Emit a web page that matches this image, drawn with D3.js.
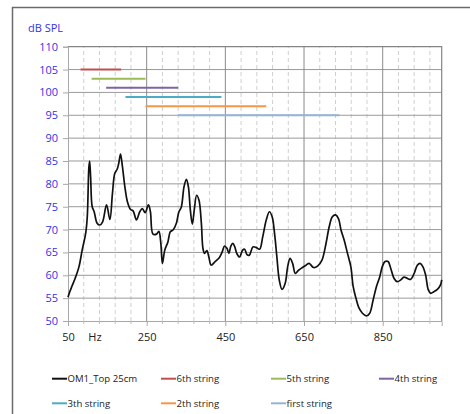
<!DOCTYPE html>
<html><head><meta charset="utf-8">
<script src="https://cdn.jsdelivr.net/npm/d3@7"></script>
<style>body{margin:0;background:#fff} text{font-family:"Open Sans",sans-serif}</style>
</head><body><svg id="c" width="470" height="414"></svg>
<script>
const seriesName = "OM1_Top 25cm";
const freq = [50,55,60,68,78,86,95,99,103,105,107.5,111.5,116.5,124,131,138,148,156.5,163,169,175,179,183.5,188.5,194.5,201,209,215.5,224,232.5,239,246,254.5,259.5,266,275,281,286,290,296,304,310,317,325.5,332,338,345,351,356,361,366,371,377,383,389,393,397,403,408,414,424,435,442,448,454,459,464,469,474,479,486,494,499,505,511,520,528,537,545,554,562,569,575,581,587,594,602,608.5,614.5,621,628,636,646,655,663,674,684.5,695.6,706,714,722,730,738,744,752,760.5,769,775,782,790,798.5,808.7,817,825.7,834,842.6,849,856,863.7,870.5,879,887,896,904,913,921,930,938,945,952,959,966,972,980,989,997,1000];
const spl = [55.2,56.5,57.6,59.3,61.9,65.5,69.2,72.8,83.5,85,81.5,75,73.9,71.4,71,71.7,75.4,72.2,77.9,82.3,83.2,84.5,86.5,83.7,79.4,76.1,74.4,74.1,72.1,73.9,74.6,73.7,75.4,73.9,69,69,69.6,67,62.6,65.5,67.3,69.5,69.9,71.4,73.9,74.9,79.4,81,79.4,74.3,71.2,74.3,77.5,76.4,71.4,65.9,64.8,65.4,64,62.2,63,63.9,65.1,66.4,65.9,64.8,66.4,67,66.2,64.8,64,65.5,65.7,64.5,64.4,66.2,66.1,65.7,68.4,72.1,73.9,72.8,69.2,64,59,56.9,58.2,61.9,63.7,62.6,60.4,61.1,61.7,62.2,62.6,61.7,62,63.3,67,70.6,72.8,73.2,72.3,69.9,67.7,64.8,61.9,57.5,55,52.8,51.7,51.1,51.7,54.6,57.5,59.7,61.9,63,63,61.5,59.3,58.6,59,59.6,59.3,59.1,60.4,62.2,62.6,61.9,60.1,56.8,56.05,56.4,56.9,57.9,59];
const stringNames = ["6th string","5th string","4th string","3th string","2th string","first string"];
const stringStart = [82,110,147,196,247,330];
const stringEnd = [185,247,330,440,554,740];
const stringLevel = [105,103,101,99,97,95];
const stringColors = ["#c0504d","#9bbb59","#8064a2","#4bacc6","#f79646","#95b3d7"];
const xTicks = [50,250,450,650,850];
const xMinor = d3.range(90,1000,40).filter(v => (v-50)%200 !== 0);
const yTicks = d3.range(50,111,5);

const svg = d3.select("#c");
const x = d3.scaleLinear().domain([50,1000]).range([68,441.7]);
const y = d3.scaleLinear().domain([50,110]).range([321,46.7]);

// outer frame
svg.append("rect").attr("x",12.5).attr("y",7.5).attr("width",480).attr("height",420)
  .attr("fill","none").attr("stroke","#6b6b6b").attr("stroke-width",1.5);

const g = svg.append("g");
// minor vertical gridlines
g.selectAll(".vmin").data(xMinor).join("line")
  .attr("x1",d=>x(d)).attr("x2",d=>x(d)).attr("y1",y(50)).attr("y2",y(110))
  .attr("stroke","#cfcfcf").attr("stroke-dasharray","4,3").attr("stroke-width",1);
// horizontal gridlines
g.selectAll(".hg").data(yTicks.filter(v=>v>50&&v<110)).join("line")
  .attr("x1",x(50)).attr("x2",x(1000)).attr("y1",d=>y(d)).attr("y2",d=>y(d))
  .attr("stroke","#9a9a9a").attr("stroke-width",1);
// major vertical gridlines
g.selectAll(".vmaj").data(xTicks.filter(v=>v>50)).join("line")
  .attr("x1",d=>x(d)).attr("x2",d=>x(d)).attr("y1",y(50)).attr("y2",y(110))
  .attr("stroke","#8a8a8a").attr("stroke-width",1);
// top & right border
g.append("path").attr("d",`M${x(50)},${y(110)}H${x(1000)}V${y(50)}`)
  .attr("fill","none").attr("stroke","#858585").attr("stroke-width",1.2);

// axes
const yAxis = d3.axisLeft(y).tickValues(yTicks).tickSize(5).tickPadding(5);
const ya = svg.append("g").attr("transform",`translate(${x(50)},0)`).call(yAxis);
ya.select(".domain").attr("stroke","#a8a8a8");
ya.selectAll(".tick line").attr("stroke","#a8a8a8");
ya.selectAll("text").attr("fill","#3232e6").attr("font-size",11).attr("font-family","Open Sans");

const xAxis = d3.axisBottom(x).tickValues(xTicks).tickSize(5).tickPadding(7);
const xa = svg.append("g").attr("transform",`translate(0,${y(50)})`).call(xAxis);
xa.select(".domain").attr("stroke","#a8a8a8");
xa.selectAll(".tick line").attr("stroke","#a8a8a8");
xa.selectAll("text").attr("fill","#222").attr("font-size",11).attr("font-family","Open Sans");
xa.selectAll(".mt").data(xMinor).join("line").attr("class","mt")
  .attr("x1",d=>x(d)).attr("x2",d=>x(d)).attr("y1",0).attr("y2",3).attr("stroke","#bdbdbd");

svg.append("text").attr("x",95).attr("y",341).attr("text-anchor","middle")
  .attr("font-size",11).attr("fill","#222").text("Hz");
svg.append("text").attr("x",28).attr("y",32).attr("font-size",11).attr("fill","#3232e6").text("dB SPL");

// string ranges
svg.selectAll(".sr").data(stringNames).join("line")
  .attr("x1",(d,i)=>x(stringStart[i])).attr("x2",(d,i)=>x(stringEnd[i]))
  .attr("y1",(d,i)=>y(stringLevel[i])).attr("y2",(d,i)=>y(stringLevel[i]))
  .attr("stroke",(d,i)=>stringColors[i]).attr("stroke-width",2);

// main curve
const pts = freq.map((f,i)=>[f,spl[i]]);
svg.append("path").datum(pts)
  .attr("d",d3.line().x(d=>x(d[0])).y(d=>y(d[1])).curve(d3.curveCatmullRom.alpha(0.5)))
  .attr("fill","none").attr("stroke","#111").attr("stroke-width",1.7).attr("stroke-linejoin","round");

// legend
const legendItems = [seriesName, ...stringNames];
const legendColors = ["#111", ...stringColors];
const colX = [52,161,271,379];
const rowY = [378.7,403.3];
const lg = svg.selectAll(".lg").data(legendItems).join("g")
  .attr("transform",(d,i)=>`translate(${colX[i%4]},${rowY[Math.floor(i/4)]})`);
lg.append("line").attr("x1",0).attr("x2",15).attr("stroke",(d,i)=>legendColors[i]).attr("stroke-width",2);
lg.append("text").attr("x",15.5).attr("y",3.3).attr("font-size",9.6).attr("fill","#222").text(d=>d);
</script></body></html>
